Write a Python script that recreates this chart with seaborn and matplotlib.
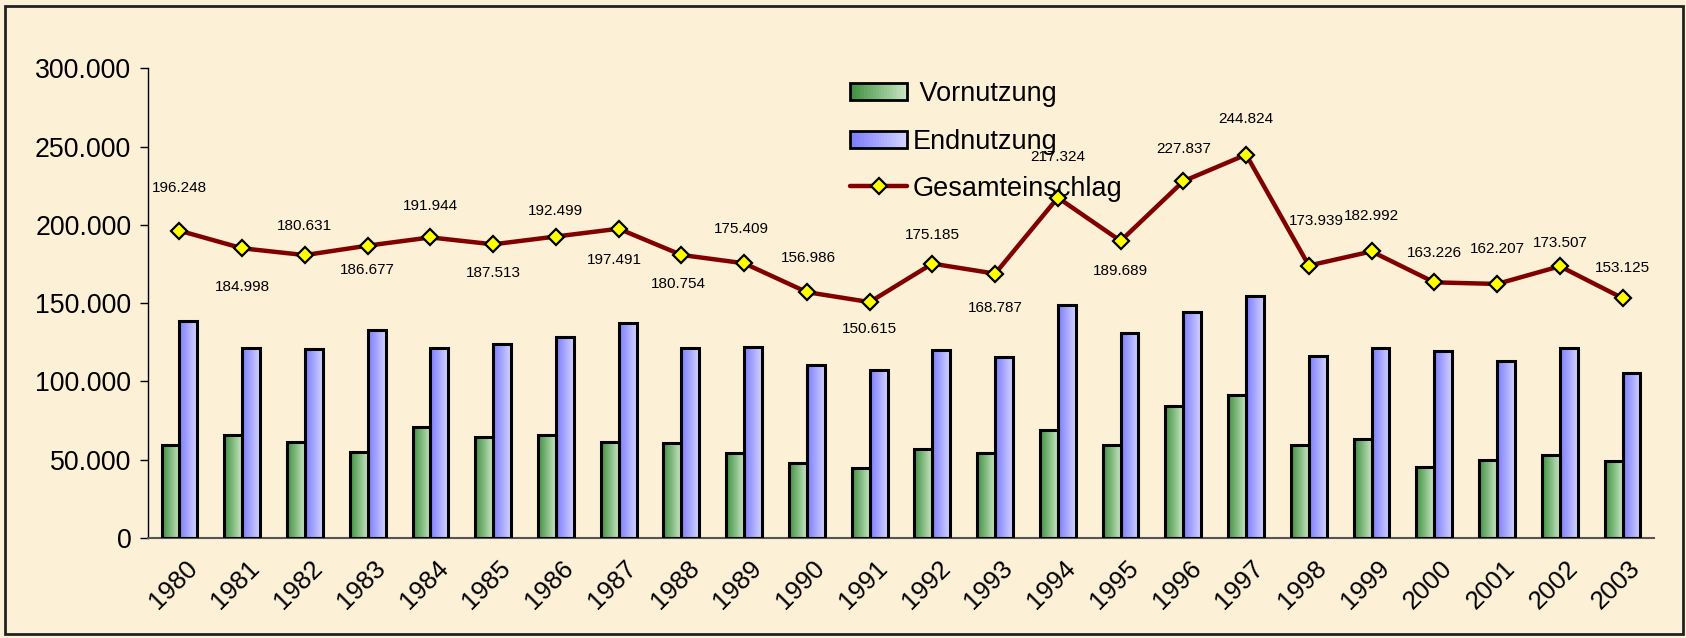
import numpy as np
import pandas as pd
import matplotlib
matplotlib.use('Agg')
import matplotlib.pyplot as plt
import matplotlib.ticker as mticker
from matplotlib.patches import Rectangle
from matplotlib.lines import Line2D
from matplotlib.legend_handler import HandlerBase
from matplotlib.transforms import ScaledTranslation
import seaborn as sns

# values
years = [str(y) for y in range(1980, 2004)]
vornutzung = [59000, 65500, 61000, 55000, 71000, 64500, 65500, 61000, 60500, 54500,
              47500, 44500, 56500, 54500, 69000, 59500, 84000, 91500, 59000, 63000,
              45000, 50000, 53000, 49000]
endnutzung = [138500, 121000, 120500, 132500, 121500, 124000, 128000, 137000, 121000, 122000,
              110500, 107500, 120000, 115500, 148500, 131000, 144500, 154500, 116000, 121000,
              119500, 113000, 121500, 105000]
gesamt = [196248, 184998, 180631, 186677, 191944, 187513, 192499, 197491, 180754, 175409,
          156986, 150615, 175185, 168787, 217324, 189689, 227837, 244824, 173939, 182992,
          163226, 162207, 173507, 153125]
# where the value labels sit relative to the marker (pixels, + = below)
label_dy = [-43, 39, -29, 24, -31, 29, -26, 31, 29, -34, -34, 27, -29, 34, -41, 30,
            -32, -36, -45, -35, -29, -35, -23, -30]
label_dx = [0, 0, 0, 0, 0, 0, 0, -4, -3, -3, 2, 0, 0, 0, 0, 0, 0, 0, 8, 0, 0, 0, 0, 0]

bg = '#fcf0d6'
green_grad = ['#3f8f3f', '#c6e5c2']
blue_grad = ['#7c7cff', '#d2d2ff']

sns.set_style('white')
plt.rcParams['font.family'] = ['Liberation Sans', 'DejaVu Sans']

fig = plt.figure(figsize=(16.86, 6.38), dpi=100, facecolor=bg)
ax = fig.add_axes([0.0878, 0.157, 0.8932, 0.736])
ax.set_facecolor(bg)

df = pd.DataFrame({'Jahr': years * 2,
                   'Wert': vornutzung + endnutzung,
                   'Serie': ['Vornutzung'] * len(years) + ['Endnutzung'] * len(years)})

sns.barplot(data=df, x='Jahr', y='Wert', hue='Serie', palette=['#70b070', '#a0a0ff'],
            width=0.57, gap=0, edgecolor='black', linewidth=2.2, legend=False,
            errorbar=None, ax=ax, zorder=3)


def grad_img(c1, c2):
    a = np.array(matplotlib.colors.to_rgb(c1))
    b = np.array(matplotlib.colors.to_rgb(c2))
    t = np.linspace(0, 1, 64)[:, None]
    return (a + (b - a) * t)[None, :, :]


# gradient fill on every bar (Excel style)
for cont, cols in zip(ax.containers, [green_grad, blue_grad]):
    img = grad_img(*cols)
    for bar in cont:
        x0, y0 = bar.get_x(), bar.get_y()
        w, h = bar.get_width(), bar.get_height()
        im = ax.imshow(img, extent=[x0, x0 + w, y0, y0 + h], aspect='auto',
                       interpolation='bilinear', zorder=2.5)
        im.set_clip_path(bar)
        bar.set_facecolor('none')

sns.pointplot(x=years, y=gesamt, ax=ax, color='#800000', markers='D', linestyles='-',
              linewidth=3.2, markersize=8, markerfacecolor='#ffff00',
              markeredgecolor='black', markeredgewidth=1.6, zorder=5)

for i, v in enumerate(gesamt):
    ax.annotate(f'{v:,}'.replace(',', '.'), xy=(i, v),
                xytext=(label_dx[i] * 0.72, -label_dy[i] * 0.72), textcoords='offset points',
                ha='center', va='center', fontsize=11, color='black', zorder=6)

ax.set_xlim(-0.5, len(years) - 0.5)
ax.set_ylim(0, 300000)
ax.set_xlabel('')
ax.set_ylabel('')
ax.yaxis.set_major_locator(mticker.MultipleLocator(50000))
ax.yaxis.set_major_formatter(mticker.FuncFormatter(lambda v, p: f'{int(v):,}'.replace(',', '.')))
ax.tick_params(axis='y', direction='out', length=6, width=1, labelsize=19.3, pad=6, left=True,
               labelcolor='black', color='black')
ax.set_xticks(range(len(years)))
ax.set_xticklabels(years, rotation=45, ha='right', va='center', rotation_mode='anchor',
                   fontsize=18.5, color='black')
ax.tick_params(axis='x', which='major', length=0, pad=19)
shift = ScaledTranslation(14 / 100, 0, fig.dpi_scale_trans)
for lab in ax.get_xticklabels():
    lab.set_transform(lab.get_transform() + shift)
ax.set_xticks(np.arange(-0.5, len(years)), minor=True)
ax.tick_params(axis='x', which='minor', direction='inout', length=14, width=1, color='#333333')

for s in ['top', 'right']:
    ax.spines[s].set_visible(False)
ax.spines['left'].set_color('black')
ax.spines['left'].set_linewidth(1)
ax.spines['bottom'].set_color('#555555')
ax.spines['bottom'].set_linewidth(1.5)


class GradHandler(HandlerBase):
    def __init__(self, cols):
        super().__init__()
        self.cols = cols

    def create_artists(self, legend, orig, xd, yd, width, height, fontsize, trans):
        arts = []
        n = 20
        a = np.array(matplotlib.colors.to_rgb(self.cols[0]))
        b = np.array(matplotlib.colors.to_rgb(self.cols[1]))
        h = height * 0.9
        y = yd + (height - h) / 2
        for k in range(n):
            c = a + (b - a) * k / (n - 1)
            arts.append(Rectangle((xd + width * k / n, y), width / n + 0.3, h,
                                  facecolor=c, edgecolor='none', transform=trans))
        arts.append(Rectangle((xd, y), width, h, facecolor='none', edgecolor='black',
                              linewidth=2, transform=trans))
        return arts


h1 = Rectangle((0, 0), 1, 1)
h2 = Rectangle((0, 0), 1, 1)
h3 = Line2D([], [], color='#800000', linewidth=3.2, marker='D', markersize=8,
            markerfacecolor='#ffff00', markeredgecolor='black', markeredgewidth=1.6)
leg = ax.legend([h1, h2, h3], [' Vornutzung', 'Endnutzung', 'Gesamteinschlag'],
                handler_map={h1: GradHandler(green_grad), h2: GradHandler(blue_grad)},
                loc='upper left', bbox_to_anchor=(0.459, 0.995), frameon=False,
                fontsize=19.5, handlelength=2.1, handletextpad=0.2, labelspacing=0.78,
                borderaxespad=0)
for t in leg.get_texts():
    t.set_color('black')
leg.set_zorder(4)

fig.add_artist(Rectangle((0.003, 0.006), 0.995, 0.984, transform=fig.transFigure,
                         fill=False, edgecolor='#222222', linewidth=2))

fig.savefig('out.png', dpi=100, facecolor=bg)
